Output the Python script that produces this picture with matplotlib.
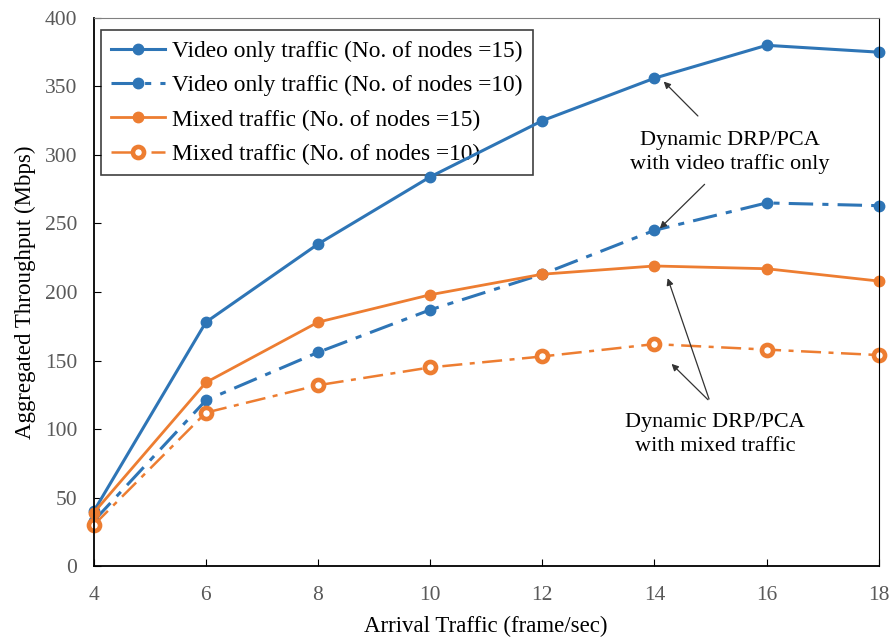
import matplotlib.pyplot as plt

plt.rcParams['font.family'] = ['Liberation Serif', 'DejaVu Serif']

traffic = [4, 6, 8, 10, 12, 14, 16, 18]
video_15 = [40, 178, 235, 284, 325, 356, 380, 375]
video_10 = [33, 121, 156, 187, 213, 245, 265, 263]
mixed_15 = [39, 134, 178, 198, 213, 219, 217, 208]
mixed_10 = [30, 112, 132, 145, 153, 162, 158, 154]

blue = '#2E75B6'
orange = '#ED7D31'

fig = plt.figure(figsize=(8.93, 6.39), dpi=100)
ax = fig.add_axes([0.105, 0.114, 0.879, 0.858])

ax.plot(traffic, video_15, '-o', color=blue, lw=2.2, ms=7.5, clip_on=False,
        label='Video only traffic (No. of nodes =15)')
ax.plot(traffic, video_10, '-.o', color=blue, lw=2.2, ms=7.5, clip_on=False,
        dashes=(8, 3, 2, 3), label='Video only traffic (No. of nodes =10)')
ax.plot(traffic, mixed_15, '-o', color=orange, lw=2.0, ms=7.5, clip_on=False,
        label='Mixed traffic (No. of nodes =15)')
ax.plot(traffic, mixed_10, '-.o', color=orange, lw=1.8, ms=8, mfc='white',
        mew=3.3, dashes=(8, 3, 2, 3), clip_on=False,
        label='Mixed traffic (No. of nodes =10)')

ax.set_xlim(4, 18)
ax.set_ylim(0, 400)
ax.set_xticks(traffic)
ax.set_yticks(range(0, 401, 50))
ax.tick_params(direction='in', length=5, labelsize=15.5, labelcolor='#595959')
ax.tick_params(axis='x', pad=14)
ax.tick_params(axis='y', pad=12)
ax.spines['top'].set_color('#808080')
ax.spines['left'].set_linewidth(1.3)
ax.spines['bottom'].set_linewidth(1.3)

ax.set_xlabel('Arrival Traffic (frame/sec)', fontsize=16.5, labelpad=8)
ax.set_ylabel('Aggregated Throughput (Mbps)', fontsize=16.5, labelpad=6)

leg = ax.legend(loc='upper left', fontsize=16.8, frameon=True, fancybox=False,
                edgecolor='#404040', borderpad=0.45, borderaxespad=0,
                handlelength=2.3, handletextpad=0.3, labelspacing=0.56,
                framealpha=1, bbox_to_anchor=(0.009, 0.978))
leg.get_frame().set_linewidth(1.2)
leg.set_zorder(1)

arrow = dict(arrowstyle='-|>', color='#333333', lw=0.9, mutation_scale=10)
ax.text(15.35, 302, 'Dynamic DRP/PCA\nwith video traffic only', fontsize=16,
        ha='center', va='center', linespacing=1.3)
ax.annotate('', xy=(14.13, 355), xytext=(14.81, 327), arrowprops=arrow)
ax.annotate('', xy=(14.06, 245), xytext=(14.93, 280), arrowprops=arrow)

ax.text(15.08, 96, 'Dynamic DRP/PCA\nwith mixed traffic', fontsize=16,
        ha='center', va='center', linespacing=1.3)
ax.annotate('', xy=(14.22, 212), xytext=(14.99, 120), arrowprops=arrow)
ax.annotate('', xy=(14.27, 149), xytext=(14.99, 120), arrowprops=arrow)

fig.savefig('out.png', dpi=100)
